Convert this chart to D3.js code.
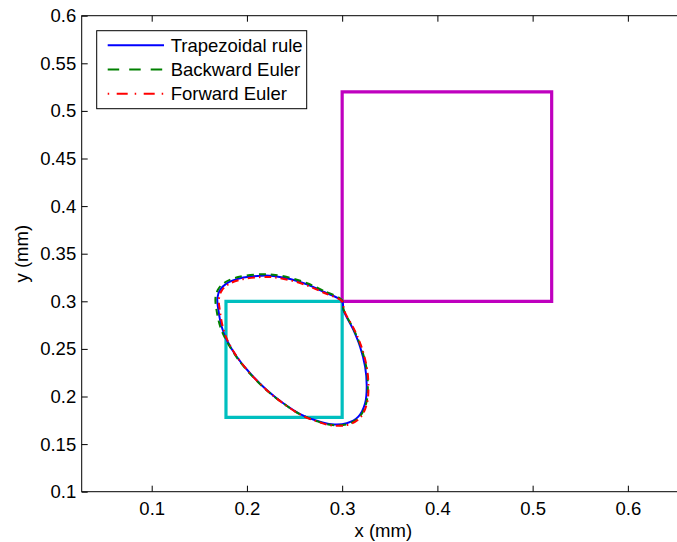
<!DOCTYPE html>
<html>
<head>
<meta charset="utf-8">
<script src="https://cdn.jsdelivr.net/npm/d3@7"></script>
<style>
  body { margin: 0; background: #fff; }
  svg { display: block; font-family: "Liberation Sans", Arial, sans-serif; }
</style>
</head>
<body>
<div id="chart"></div>
<script>
// Tick values
const xTicks = [0.1, 0.2, 0.3, 0.4, 0.5, 0.6];
const yTicks = [0.1, 0.15, 0.2, 0.25, 0.3, 0.35, 0.4, 0.45, 0.5, 0.55, 0.6];

// Legend names
const seriesNames = ["Trapezoidal rule", "Backward Euler", "Forward Euler"];

// Trajectories, x and y in mm
const trapX = [0.300, 0.2803, 0.2628, 0.2453, 0.2277, 0.2155, 0.1928, 0.1788, 0.1717, 0.1689, 0.1700, 0.1735, 0.1788, 0.1893,
  0.2033, 0.2208, 0.2382, 0.2558, 0.2733, 0.2891, 0.3048, 0.3170, 0.3241, 0.3258, 0.3241, 0.3188, 0.3118, 0.3013];
const trapY = [0.300, 0.3101, 0.3179, 0.3234, 0.3266, 0.3269, 0.3242, 0.3189, 0.3119, 0.3032, 0.2909, 0.2733, 0.2594, 0.2418,
  0.2244, 0.2068, 0.1929, 0.1816, 0.1746, 0.1708, 0.1719, 0.1788, 0.1929, 0.2103, 0.2313, 0.2523, 0.2699, 0.2909];

const backX = [0.300, 0.2800, 0.2625, 0.2450, 0.2275, 0.2150, 0.1920, 0.1775, 0.1700, 0.1670, 0.1680, 0.1720, 0.1782, 0.1890,
  0.2031, 0.2207, 0.2383, 0.2560, 0.2737, 0.2897, 0.3057, 0.3180, 0.3252, 0.3270, 0.3252, 0.3195, 0.3122, 0.3015];
const backY = [0.301, 0.3113, 0.3192, 0.3248, 0.3280, 0.3284, 0.3257, 0.3203, 0.3130, 0.3040, 0.2912, 0.2733, 0.2592, 0.2415,
  0.2241, 0.2065, 0.1926, 0.1812, 0.1740, 0.1700, 0.1710, 0.1782, 0.1927, 0.2103, 0.2315, 0.2527, 0.2703, 0.2912];

const fwdX = [0.3005, 0.2807, 0.2632, 0.2457, 0.2282, 0.2160, 0.1937, 0.1800, 0.1732, 0.1706, 0.1716, 0.1748, 0.1796, 0.1898,
  0.2036, 0.2211, 0.2386, 0.2563, 0.2740, 0.2900, 0.3060, 0.3185, 0.3258, 0.3276, 0.3258, 0.3203, 0.3130, 0.3020];
const fwdY = [0.2995, 0.3090, 0.3166, 0.3220, 0.3252, 0.3255, 0.3228, 0.3176, 0.3107, 0.3022, 0.2900, 0.2727, 0.2590, 0.2414,
  0.2240, 0.2064, 0.1924, 0.1809, 0.1736, 0.1695, 0.1703, 0.1772, 0.1918, 0.2098, 0.2310, 0.2521, 0.2697, 0.2905];

// Squares (corners)
const cyanX = [0.178, 0.3, 0.3, 0.178];
const cyanY = [0.178, 0.178, 0.3, 0.3];
const magentaX = [0.3, 0.52, 0.52, 0.3];
const magentaY = [0.3, 0.3, 0.52, 0.52];

const width = 677;
const height = 542;
const fontSize = "18.5px";

// Plot area (right edge runs past the window)
const plotLeft = 81.7, plotRight = 685, plotTop = 15.7, plotBottom = 491.7;

const x = d3.scaleLinear().domain([0.0265, 0.66]).range([plotLeft, plotRight]);
const y = d3.scaleLinear().domain([0.1, 0.6]).range([plotBottom, plotTop]);

const fmt = (d) => String(+d.toFixed(2));

const svg = d3.select("#chart")
  .append("svg")
  .attr("width", width)
  .attr("height", height);

svg.append("rect").attr("width", width).attr("height", height).attr("fill", "#fff");

svg.append("clipPath").attr("id", "clip")
  .append("rect")
  .attr("x", plotLeft).attr("y", plotTop)
  .attr("width", plotRight - plotLeft).attr("height", plotBottom - plotTop);

const plot = svg.append("g").attr("clip-path", "url(#clip)");

// Squares
const zipPts = (xs, ys) => xs.map((v, i) => [x(v), y(ys[i])]);
plot.append("polygon")
  .attr("points", zipPts(cyanX, cyanY).join(" "))
  .attr("fill", "none")
  .attr("stroke", "#00bfbf")
  .attr("stroke-width", 3.2);
plot.append("polygon")
  .attr("points", zipPts(magentaX, magentaY).join(" "))
  .attr("fill", "none")
  .attr("stroke", "#bf00bf")
  .attr("stroke-width", 3.2);

// Trajectories
const line = d3.line()
  .x((d) => x(d[0]))
  .y((d) => y(d[1]))
  .curve(d3.curveCatmullRomClosed.alpha(0.5));

const series = [
  { xs: trapX, ys: trapY, color: "#0000ff", dash: null, legendDash: null },
  { xs: backX, ys: backY, color: "#008000", dash: "7,5", legendDash: "11.5,10" },
  { xs: fwdX, ys: fwdY, color: "#ff0000", dash: "1.5,4,7,4", legendDash: "1.5,7.5,11,7" },
];

series.forEach((s) => {
  plot.append("path")
    .datum(s.xs.map((v, i) => [v, s.ys[i]]))
    .attr("d", line)
    .attr("fill", "none")
    .attr("stroke", s.color)
    .attr("stroke-width", 2)
    .attr("stroke-dasharray", s.dash);
});

// Axes (ticks point inward)
const gx = svg.append("g")
  .attr("transform", `translate(0,${plotBottom})`)
  .call(d3.axisBottom(x).tickValues(xTicks).tickFormat(fmt).tickSizeInner(-6).tickSizeOuter(0).tickPadding(10));
const gxTop = svg.append("g")
  .attr("transform", `translate(0,${plotTop})`)
  .call(d3.axisTop(x).tickValues(xTicks).tickFormat("").tickSizeInner(-6).tickSizeOuter(0));
const gy = svg.append("g")
  .attr("transform", `translate(${plotLeft},0)`)
  .call(d3.axisLeft(y).tickValues(yTicks).tickFormat(fmt).tickSizeInner(-6).tickSizeOuter(0).tickPadding(5.5));
const gyRight = svg.append("g")
  .attr("transform", `translate(${plotRight},0)`)
  .call(d3.axisRight(y).tickValues(yTicks).tickFormat("").tickSizeInner(-6).tickSizeOuter(0));

[gx, gxTop, gy, gyRight].forEach((g) => {
  g.select(".domain").remove();
  g.selectAll("line").attr("stroke", "#000");
  g.selectAll("text")
    .attr("fill", "#000")
    .style("font-size", fontSize)
    .style("font-family", '"Liberation Sans", Arial, sans-serif');
});

// Frame
svg.append("rect")
  .attr("x", plotLeft).attr("y", plotTop)
  .attr("width", plotRight - plotLeft).attr("height", plotBottom - plotTop)
  .attr("fill", "none")
  .attr("stroke", "#000")
  .attr("stroke-width", 1);

// Axis labels
svg.append("text")
  .attr("x", (plotLeft + plotRight) / 2)
  .attr("y", 537)
  .attr("text-anchor", "middle")
  .style("font-size", fontSize)
  .text("x (mm)");

svg.append("text")
  .attr("transform", `translate(28,${(plotTop + plotBottom) / 2}) rotate(-90)`)
  .attr("text-anchor", "middle")
  .style("font-size", fontSize)
  .text("y (mm)");

// Legend
const legend = svg.append("g");
legend.append("rect")
  .attr("x", 96.7).attr("y", 30.7)
  .attr("width", 210).attr("height", 78)
  .attr("fill", "#fff")
  .attr("stroke", "#000")
  .attr("stroke-width", 1);

series.forEach((s, i) => {
  const ly = 45.3 + i * 24.2;
  legend.append("line")
    .attr("x1", 107.7).attr("x2", 164)
    .attr("y1", ly).attr("y2", ly)
    .attr("stroke", s.color)
    .attr("stroke-width", 2)
    .attr("stroke-dasharray", s.legendDash);
  legend.append("text")
    .attr("x", 170.7)
    .attr("y", ly + 6.5)
    .style("font-size", fontSize)
    .text(seriesNames[i]);
});
</script>
</body>
</html>
